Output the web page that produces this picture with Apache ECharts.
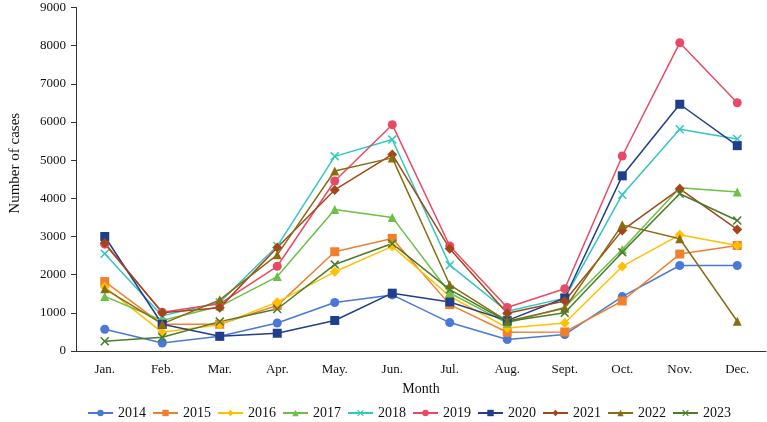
<!DOCTYPE html>
<html>
<head>
<meta charset="utf-8">
<script src="https://cdn.jsdelivr.net/npm/echarts@6/dist/echarts.min.js"></script>
<style>html,body{margin:0;padding:0;background:#fff;}#c{width:767px;height:422px;}</style>
</head>
<body>
<div id="c"></div>
<script>
const months = ['Jan.','Feb.','Mar.','Apr.','May.','Jun.','Jul.','Aug.','Sept.','Oct.','Nov.','Dec.'];
const yTicks = [0,1000,2000,3000,4000,5000,6000,7000,8000,9000];
const years = ['2014','2015','2016','2017','2018','2019','2020','2021','2022','2023'];
const y2014 = [570, 210, 385, 735, 1270, 1470, 745, 300, 430, 1425, 2240, 2240];
const y2015 = [1820, 700, 700, 1190, 2600, 2950, 1215, 490, 500, 1310, 2540, 2765];
const y2016 = [1680, 490, 690, 1280, 2075, 2740, 1435, 605, 735, 2215, 3045, 2765];
const y2017 = [1430, 800, 1170, 1950, 3710, 3500, 1520, 730, 1150, 2660, 4280, 4165];
const y2018 = [2550, 920, 1280, 2750, 5100, 5540, 2250, 1040, 1385, 4095, 5810, 5555];
const y2019 = [2800, 1015, 1235, 2220, 4455, 5930, 2750, 1140, 1630, 5110, 8075, 6505];
const y2020 = [3000, 700, 385, 465, 800, 1515, 1285, 795, 1390, 4590, 6465, 5380];
const y2021 = [2830, 1000, 1130, 2710, 4220, 5150, 2680, 990, 1310, 3160, 4250, 3185];
const y2022 = [1630, 710, 1340, 2520, 4715, 5060, 1735, 780, 1120, 3305, 2940, 780];
const y2023 = [255, 360, 770, 1100, 2265, 2815, 1610, 770, 1000, 2590, 4120, 3420];

const seriesData = [y2014,y2015,y2016,y2017,y2018,y2019,y2020,y2021,y2022,y2023];
const colors = ['#4A78D6','#F0802E','#FFC000','#6CC044','#32C8BE','#E84A66','#203F8A','#A3461A','#8B6B12','#4B7B2B'];
const xPath = 'path://M0,1.2L1.2,0L5,3.8L8.8,0L10,1.2L6.2,5L10,8.8L8.8,10L5,6.2L1.2,10L0,8.8L3.8,5Z';
const symbols = ['circle','rect','diamond','triangle',xPath,'circle','rect','diamond','triangle',xPath];
const sizes = [9,9,10,9,9,9,9,10,9,9];
const font = '"Liberation Serif","Times New Roman",serif';

const chart = echarts.init(document.getElementById('c'), null, {renderer:'canvas'});
chart.setOption({
  animation:false,
  color: colors,
  grid:{left:66, right:1, top:7.5, bottom:71, containLabel:false},
  xAxis:{
    type:'category', data: months, boundaryGap:true,
    name:'Month', nameLocation:'middle', nameGap:31,
    nameTextStyle:{fontFamily:font, fontSize:14, color:'#111'},
    axisLine:{lineStyle:{color:'#333', width:1}},
    axisTick:{alignWithLabel:true, length:5, lineStyle:{color:'#333'}},
    axisLabel:{fontFamily:font, fontSize:13, color:'#111', margin:12}
  },
  yAxis:{
    type:'value', min:yTicks[0], max:yTicks[yTicks.length-1], interval:1000,
    name:'Number of cases', nameLocation:'middle', nameGap:53,
    nameTextStyle:{fontFamily:font, fontSize:15, color:'#111', padding:[0,0,0,32]},
    axisLine:{show:true, lineStyle:{color:'#333', width:1}},
    axisTick:{show:true, length:5, lineStyle:{color:'#333'}},
    splitLine:{show:false},
    axisLabel:{fontFamily:font, fontSize:13, color:'#111', margin:10,
      formatter:(v)=>String(v)}
  },
  legend:{
    top:401, left:82, itemWidth:25, itemHeight:8, itemGap:6,
    textStyle:{fontFamily:font, fontSize:14, color:'#111'},
    data: years
  },
  series: years.map((y,i)=>({
    name:y, type:'line', data: seriesData[i],
    symbol: symbols[i], symbolSize: sizes[i], showSymbol:true,
    lineStyle:{width:1.5, color:colors[i]},
    itemStyle:{color:colors[i]}
  }))
});
</script>
</body>
</html>
